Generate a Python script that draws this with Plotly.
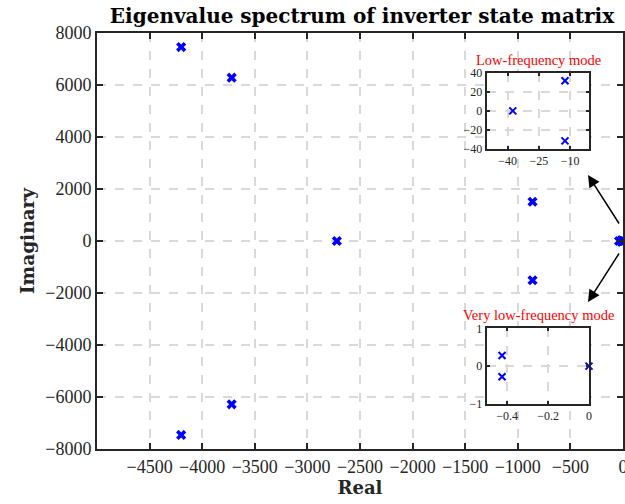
import plotly.graph_objects as go

# Eigenvalues
main_real = [-4200, -4200, -3720, -3720, -2720, -860, -860, -12.5, -12.5, -37.5, -0.425, -0.425, 0.0]
main_imag = [7460, -7460, 6280, -6280, 0, 1510, -1510, 31.5, -31.5, 0, 0.28, -0.28, 0.0]
lf_real = [-12.5, -12.5, -37.5]
lf_imag = [31.5, -31.5, 0]
vlf_real = [-0.425, -0.425, 0.0]
vlf_imag = [0.28, -0.28, 0.0]

main_xticks = [-4500, -4000, -3500, -3000, -2500, -2000, -1500, -1000, -500, 0]
main_yticks = [-8000, -6000, -4000, -2000, 0, 2000, 4000, 6000, 8000]
lf_xticks = [-40, -25, -10]
lf_yticks = [-40, -20, 0, 20, 40]
vlf_xticks = [-0.4, -0.2, 0]
vlf_yticks = [-1, 0, 1]

title_text = "Eigenvalue spectrum of inverter state matrix"
xlabel = "Real"
ylabel = "Imaginary"
lf_title = "Low-frequency mode"
vlf_title = "Very low-frequency mode"

W, H = 625, 504
L, R, T, B = 97, 2, 33, 55
PW, PH = W - L - R, H - T - B

def px_x(p):
    return (p - L) / PW

def px_y(p):
    return (H - B - p) / PH

SERIF = "Liberation Serif"
BOLD = "DejaVu Serif"
AXC = "#262626"
GRIDC = "#d9d9d9"

fig = go.Figure()
fig.add_trace(go.Scatter(x=main_real, y=main_imag, mode="markers",
                         marker=dict(symbol="x", size=9, color="#0000ff",
                                     line=dict(width=0)),
                         cliponaxis=False, showlegend=False))
fig.add_trace(go.Scatter(x=lf_real, y=lf_imag, mode="markers", xaxis="x2", yaxis="y2",
                         marker=dict(symbol="x-thin", size=7, color="#0000ff",
                                     line=dict(width=2, color="#0000ff")),
                         cliponaxis=False, showlegend=False))
fig.add_trace(go.Scatter(x=vlf_real, y=vlf_imag, mode="markers", xaxis="x3", yaxis="y3",
                         marker=dict(symbol="x-thin", size=7, color="#0000ff",
                                     line=dict(width=2, color="#0000ff")),
                         cliponaxis=False, showlegend=False))

def ax_common(size, ticklen):
    return dict(showline=True, linecolor=AXC, linewidth=2, mirror="ticks",
                ticks="inside", ticklen=ticklen, tickwidth=2, tickcolor=AXC,
                showgrid=True, gridcolor=GRIDC, gridwidth=2, griddash="dash",
                zeroline=False, automargin=False, ticklabeloverflow="allow",
                tickfont=dict(family=SERIF, size=size, color=AXC))

i1x = [px_x(486.7), px_x(589)]
i1y = [px_y(149), px_y(72.7)]
i2x = [px_x(486.7), px_x(589)]
i2y = [px_y(404), px_y(328.3)]

fig.update_layout(
    width=W, height=H,
    margin=dict(l=L, r=R, t=T, b=B, autoexpand=False),
    paper_bgcolor="white", plot_bgcolor="white",
    title=dict(text="<b>" + title_text + "</b>", xref="container", x=362 / W,
               xanchor="center", y=1 - 16 / H, yanchor="middle",
               font=dict(family=BOLD, size=20, color="#000000")),
    xaxis=dict(range=[-5000, 0], tickvals=main_xticks, domain=[0, 1],
               title=dict(text="<b>" + xlabel + "</b>", standoff=4,
                          font=dict(family=BOLD, size=18, color="#262626")),
               **ax_common(18, 6)),
    yaxis=dict(range=[-8000, 8000], tickvals=main_yticks, domain=[0, 1],
               title=dict(text="<b>" + ylabel + "</b>", standoff=6,
                          font=dict(family=BOLD, size=18.5, color="#262626")),
               **ax_common(18, 6)),
    xaxis2=dict(range=[-50, -1], tickvals=lf_xticks, domain=i1x, anchor="y2",
                **ax_common(12, 3)),
    yaxis2=dict(range=[-40, 40], tickvals=lf_yticks, domain=i1y, anchor="x2",
                **ax_common(12, 3)),
    xaxis3=dict(range=[-0.5, 0], tickvals=vlf_xticks, domain=i2x, anchor="y3",
                **ax_common(12, 3)),
    yaxis3=dict(range=[-1, 1], tickvals=vlf_yticks, domain=i2y, anchor="x3",
                **ax_common(12, 3)),
)

# white backgrounds for insets
for (xd, yd) in [(i1x, i1y), (i2x, i2y)]:
    fig.add_shape(type="rect", xref="paper", yref="paper", x0=xd[0], x1=xd[1],
                  y0=yd[0], y1=yd[1], fillcolor="white", line=dict(width=0),
                  layer="below")

fig.add_annotation(text=lf_title, xref="paper", yref="paper", x=px_x(538), y=px_y(59.5),
                   showarrow=False, xanchor="center", yanchor="middle",
                   font=dict(family=SERIF, size=14.5, color="#ff0000"))
fig.add_annotation(text=vlf_title, xref="paper", yref="paper", x=px_x(538), y=px_y(314.5),
                   showarrow=False, xanchor="center", yanchor="middle",
                   font=dict(family=SERIF, size=14.5, color="#ff0000"))

# arrows
fig.add_annotation(xref="paper", yref="paper", x=px_x(588), y=px_y(175),
                   axref="pixel", ayref="pixel", ax=32, ay=50, text="",
                   showarrow=True, arrowhead=2, arrowsize=1.6, arrowwidth=1.5,
                   arrowcolor="#000000")
fig.add_annotation(xref="paper", yref="paper", x=px_x(588), y=px_y(302),
                   axref="pixel", ayref="pixel", ax=32, ay=-50, text="",
                   showarrow=True, arrowhead=2, arrowsize=1.6, arrowwidth=1.5,
                   arrowcolor="#000000")

fig.write_html("out.html", config={"displayModeBar": False},
               post_script="document.body.style.margin='0';")
